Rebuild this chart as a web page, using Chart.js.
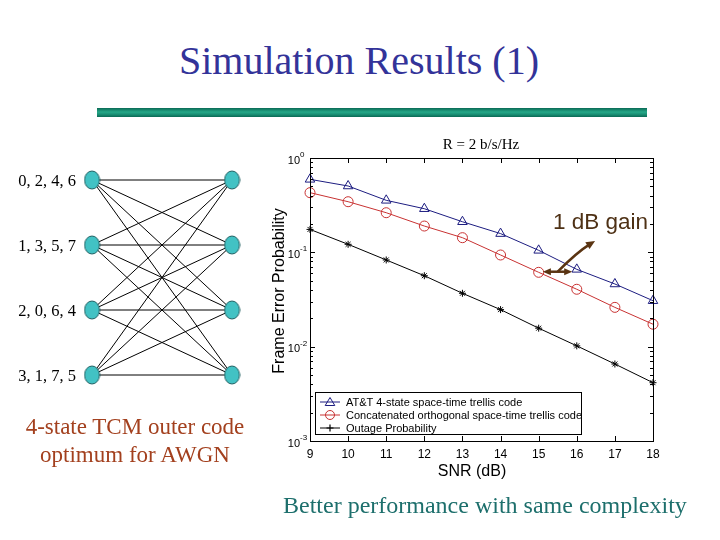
<!DOCTYPE html>
<html>
<head>
<meta charset="utf-8">
<script src="https://cdn.jsdelivr.net/npm/chart.js@4.4.1/dist/chart.umd.min.js"></script>
<style>
    body { margin: 0; background: #fff; }
    #page { position: relative; width: 720px; height: 540px; overflow: hidden; background: #fff; }
    .txt { position: absolute; white-space: nowrap; line-height: 1; }
    .serif { font-family: "Liberation Serif", "Times New Roman", serif; }
    .sans { font-family: "Liberation Sans", Arial, sans-serif; }
    #rule { position: absolute; left: 97px; top: 108px; width: 550px; height: 9px;
            background: linear-gradient(#0b6a55, #25a888 45%, #1a9075 70%, #0b6a55); }
    #legendBox { position: absolute; left: 315px; top: 392px; width: 265px; height: 41px;
                 border: 1px solid #000; background: #fff; }
    .legRow { position: absolute; left: 4px; width: 258px; height: 12px; font-size: 11px; color: #000; white-space: nowrap; }
    .legRow svg { position: absolute; left: 0; top: 0; }
    .legRow span { position: absolute; left: 26px; top: 0; line-height: 12px; white-space: nowrap; }
</style>
</head>
<body>
<div id="page">
    <div class="txt serif" style="left:0;width:718px;text-align:center;top:41px;font-size:40px;color:#333399;">Simulation Results (1)</div>
    <div id="rule"></div>

    <canvas id="mainChart" width="720" height="540" style="position:absolute;left:0;top:0;"></canvas>
    <canvas id="trellisChart" width="160" height="235" style="position:absolute;left:82px;top:160px;"></canvas>

    <div class="txt serif" style="left:381px;width:200px;text-align:center;top:137px;font-size:15px;color:#000;">R = 2 b/s/Hz</div>
    <div class="txt sans" style="left:372px;width:200px;text-align:center;top:463px;font-size:16px;color:#000;">SNR (dB)</div>
    <div class="txt sans" style="left:179px;width:200px;text-align:center;top:283px;font-size:16px;line-height:16px;color:#000;transform:rotate(-90deg);">Frame Error Probability</div>
    <div class="txt sans" style="left:553px;top:211px;font-size:22.5px;color:#4e3115;">1 dB gain</div>

    <div id="legendBox"></div>

    <div class="txt serif" style="left:15px;width:240px;text-align:center;top:413px;font-size:23px;line-height:28px;color:#a3401e;">4-state TCM outer code<br>optimum for AWGN</div>
    <div class="txt serif" style="left:283px;top:493px;font-size:24px;color:#1d6f6c;">Better performance with same complexity</div>
</div>

<script>
// Simulation data
const snrDb = [9, 10, 11, 12, 13, 14, 15, 16, 17, 18];
const fepAtt = [0.594, 0.505, 0.356, 0.290, 0.211, 0.158, 0.105, 0.066, 0.0462, 0.0307];
const fepConcat = [0.429, 0.344, 0.263, 0.190, 0.143, 0.0937, 0.0614, 0.0406, 0.0261, 0.0173];
const outageProb = [0.175, 0.1216, 0.083, 0.0565, 0.0368, 0.0247, 0.0157, 0.0102, 0.00655, 0.00415];

const seriesLabels = [
    'AT&T 4-state space-time trellis code',
    'Concatenated orthogonal space-time trellis code',
    'Outage Probability'
];
const yDecades = [1, 0.1, 0.01, 0.001];
const yDecadeExponents = ['0', '-1', '-2', '-3'];

// Trellis states (left and right columns, fully connected)
const trellisStates = ['0, 2, 4, 6', '1, 3, 5, 7', '2, 0, 6, 4', '3, 1, 7, 5'];

// "1 dB gain" arrows, in data units
const gainLevel = 0.0623;
const gainFrom = 15.11;
const gainTo = 15.88;
const gainPointer = { x0: 15.5, cx: 16.0, cy: 0.1, x1: 16.48, y1: 0.132 };

const BLUE = '#1c1c80';
const RED = '#c83232';
const BROWN = '#5a3412';
const SANS = '"Liberation Sans", Arial, sans-serif';

function toPoints(xs, ys) {
    return xs.map((x, i) => ({ x: x, y: ys[i] }));
}

function arrowHead(ctx, x, y, angle, len, half) {
    ctx.beginPath();
    ctx.moveTo(x, y);
    ctx.lineTo(x - len * Math.cos(angle) + half * Math.sin(angle), y - len * Math.sin(angle) - half * Math.cos(angle));
    ctx.lineTo(x - len * Math.cos(angle) - half * Math.sin(angle), y - len * Math.sin(angle) + half * Math.cos(angle));
    ctx.closePath();
    ctx.fill();
}

// Matlab-like box, inward ticks, decade labels and the gain annotation
const framePlugin = {
    id: 'frame',
    afterDatasetsDraw(chart) {
        const ctx = chart.ctx;
        const a = chart.chartArea;
        const xs = chart.scales.x;
        const ys = chart.scales.y;
        ctx.save();
        ctx.strokeStyle = '#000';
        ctx.lineWidth = 1;
        ctx.strokeRect(Math.round(a.left) + 0.5, Math.round(a.top) + 0.5,
            Math.round(a.right - a.left), Math.round(a.bottom - a.top));

        ctx.beginPath();
        snrDb.forEach(v => {
            const px = Math.round(xs.getPixelForValue(v)) + 0.5;
            ctx.moveTo(px, a.bottom); ctx.lineTo(px, a.bottom - 5);
            ctx.moveTo(px, a.top); ctx.lineTo(px, a.top + 5);
        });
        yDecades.forEach(d => {
            for (let m = 1; m <= 9; m++) {
                const v = d * m;
                if (v > 1.0001) continue;
                const py = Math.round(ys.getPixelForValue(v)) + 0.5;
                const len = m === 1 ? 5 : 3;
                ctx.moveTo(a.left, py); ctx.lineTo(a.left + len, py);
                ctx.moveTo(a.right, py); ctx.lineTo(a.right - len, py);
            }
        });
        ctx.stroke();

        ctx.fillStyle = '#000';
        yDecades.forEach((d, i) => {
            const py = ys.getPixelForValue(d);
            ctx.font = '11px ' + SANS;
            ctx.textAlign = 'right';
            ctx.textBaseline = 'alphabetic';
            ctx.fillText('10', a.left - 10, py + 5.5);
            ctx.font = '8px ' + SANS;
            ctx.textAlign = 'left';
            ctx.fillText(yDecadeExponents[i], a.left - 10, py - 1);
        });

        // gain annotation
        ctx.strokeStyle = BROWN;
        ctx.fillStyle = BROWN;
        ctx.lineWidth = 2.5;
        const gy = ys.getPixelForValue(gainLevel);
        const gx0 = xs.getPixelForValue(gainFrom);
        const gx1 = xs.getPixelForValue(gainTo);
        ctx.beginPath();
        ctx.moveTo(gx0 + 6, gy); ctx.lineTo(gx1 - 6, gy);
        ctx.stroke();
        arrowHead(ctx, gx0, gy, Math.PI, 8, 3.5);
        arrowHead(ctx, gx1, gy, 0, 8, 3.5);

        const p0x = xs.getPixelForValue(gainPointer.x0);
        const cpx = xs.getPixelForValue(gainPointer.cx);
        const cpy = ys.getPixelForValue(gainPointer.cy);
        const p1x = xs.getPixelForValue(gainPointer.x1);
        const p1y = ys.getPixelForValue(gainPointer.y1);
        const ang = Math.atan2(p1y - cpy, p1x - cpx);
        ctx.beginPath();
        ctx.moveTo(p0x, gy);
        ctx.quadraticCurveTo(cpx, cpy, p1x - 6 * Math.cos(ang), p1y - 6 * Math.sin(ang));
        ctx.stroke();
        arrowHead(ctx, p1x, p1y, ang, 9, 4);
        ctx.restore();
    }
};

const mainChart = new Chart(document.getElementById('mainChart'), {
    type: 'line',
    data: {
        datasets: [
            {
                label: seriesLabels[0],
                data: toPoints(snrDb, fepAtt),
                borderColor: BLUE, borderWidth: 1,
                pointStyle: 'triangle', pointRadius: 5.5,
                pointBorderColor: BLUE, pointBackgroundColor: 'rgba(0,0,0,0)', pointBorderWidth: 1,
                clip: false
            },
            {
                label: seriesLabels[1],
                data: toPoints(snrDb, fepConcat),
                borderColor: RED, borderWidth: 1,
                pointStyle: 'circle', pointRadius: 5,
                pointBorderColor: RED, pointBackgroundColor: 'rgba(0,0,0,0)', pointBorderWidth: 1,
                clip: false
            },
            {
                label: seriesLabels[2],
                data: toPoints(snrDb, outageProb),
                borderColor: '#000', borderWidth: 1,
                pointStyle: 'star', pointRadius: 3.5,
                pointBorderColor: '#000', pointBorderWidth: 1,
                clip: false
            }
        ]
    },
    options: {
        responsive: false,
        animation: false,
        devicePixelRatio: 1,
        layout: { autoPadding: false, padding: { left: 310, top: 158, right: 67, bottom: 79 } },
        plugins: { legend: { display: false }, tooltip: { enabled: false } },
        elements: { line: { tension: 0 } },
        scales: {
            x: {
                type: 'linear', min: 9, max: 18,
                afterFit(scale) { scale.height = 20; },
                grid: { display: false, drawTicks: false },
                border: { display: false },
                ticks: {
                    stepSize: 1, autoSkip: false, maxRotation: 0, padding: 6,
                    color: '#000', font: { family: SANS, size: 12 }
                }
            },
            y: {
                type: 'logarithmic', min: 0.001, max: 1,
                afterFit(scale) { scale.width = 0; },
                grid: { display: false, drawTicks: false },
                border: { display: false },
                ticks: { display: false }
            }
        }
    },
    plugins: [framePlugin]
});

// Legend rows built from the datasets
const legendBox = document.getElementById('legendBox');
const legendMarkers = [
    c => `<polygon points="10,1.5 14.8,9.5 5.2,9.5" fill="none" stroke="${c}" stroke-width="1"/>`,
    c => `<circle cx="10" cy="6" r="4.5" fill="none" stroke="${c}" stroke-width="1"/>`,
    c => `<path d="M10,2.5 V9.5 M6.5,6 H13.5" stroke="${c}" stroke-width="1.2"/>`
];
mainChart.data.datasets.forEach((ds, i) => {
    const row = document.createElement('div');
    row.className = 'legRow sans';
    row.style.top = (3 + i * 13) + 'px';
    row.innerHTML = `<svg width="22" height="12"><line x1="0" y1="6" x2="20" y2="6" stroke="${ds.borderColor}" stroke-width="1"/>${legendMarkers[i](ds.borderColor)}</svg><span>${ds.label}</span>`;
    legendBox.appendChild(row);
});

// Trellis diagram: nodes + fully connected edges
const nodeImg = document.createElement('canvas');
nodeImg.width = 17;
nodeImg.height = 20;
const g = nodeImg.getContext('2d');
g.fillStyle = '#42c2c4';
g.strokeStyle = '#1d5c5e';
g.lineWidth = 1;
g.beginPath();
g.ellipse(8.5, 10, 7.5, 9, 0, 0, Math.PI * 2);
g.fill();
g.stroke();

const nodePoints = [];
trellisStates.forEach((s, i) => {
    nodePoints.push({ x: 0, y: i });
    nodePoints.push({ x: 1, y: i });
});
const edgeDatasets = [];
trellisStates.forEach((s, i) => {
    trellisStates.forEach((t, j) => {
        edgeDatasets.push({
            data: [{ x: 0, y: i }, { x: 1, y: j }],
            showLine: true, borderColor: '#000', borderWidth: 1,
            pointRadius: 0, clip: false
        });
    });
});

const trellisChart = new Chart(document.getElementById('trellisChart'), {
    type: 'scatter',
    data: {
        datasets: [
            { data: nodePoints, pointStyle: nodeImg, pointRadius: 9, clip: false },
            ...edgeDatasets
        ]
    },
    options: {
        responsive: false,
        animation: false,
        devicePixelRatio: 1,
        layout: { autoPadding: false, padding: 0 },
        plugins: { legend: { display: false }, tooltip: { enabled: false } },
        scales: {
            x: { display: false, min: -10 / 140, max: 1 + 10 / 140 },
            y: { display: false, reverse: true, min: -20 / 65, max: 3 + 20 / 65 }
        }
    }
});

// State labels next to the left column
const page = document.getElementById('page');
trellisStates.forEach((s, i) => {
    const py = 160 + trellisChart.scales.y.getPixelForValue(i);
    const el = document.createElement('div');
    el.className = 'txt serif';
    el.style.cssText = `right:${720 - 76}px;top:${py - 7.5}px;font-size:16.5px;color:#000;`;
    el.textContent = s;
    page.appendChild(el);
});
</script>
</body>
</html>
